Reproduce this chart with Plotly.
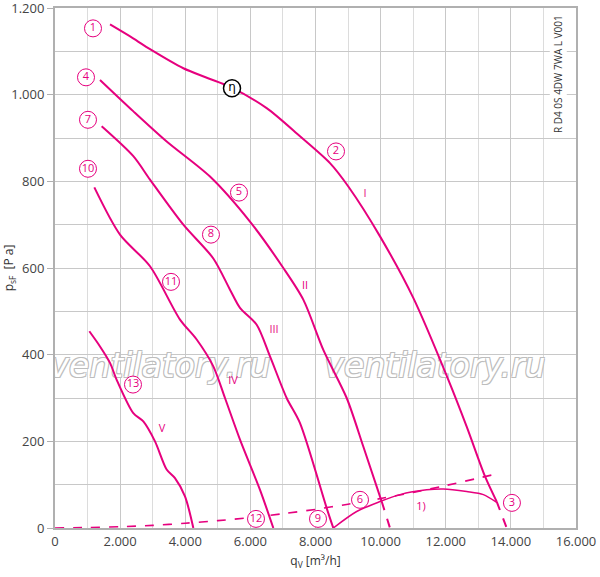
import plotly.graph_objects as go

PINK = "#e6007e"

# Fan curves (q_V in m3/h, p_sF in Pa)
c1_x = [1690, 2400, 2918, 3941, 4700, 5374, 6500, 7524, 8445, 9008, 9981, 11003, 12080, 12643, 13206, 13565]
c1_y = [1162, 1130, 1105, 1061, 1038, 1018, 969, 904, 842, 788, 673, 531, 342, 234, 119, 61]
c1d_x = [13565, 13872]
c1d_y = [61, 0]

c2_x = [1382, 2400, 3430, 4760, 5988, 7012, 7625, 8240, 8958, 9468, 10033]
c2_y = [1034, 962, 892, 811, 707, 600, 527, 411, 300, 188, 61]
c2d_x = [10033, 10288]
c2d_y = [61, 0]

c3_x = [1433, 2405, 2918, 3941, 4862, 5374, 5681, 6194, 6603, 7114, 7524, 8343, 8547]
c3_y = [927, 858, 804, 700, 622, 550, 508, 469, 396, 300, 242, 46, 0]

c4_x = [1208, 1996, 2918, 3839, 4351, 4862, 5220, 5681, 6296, 6705]
c4_y = [786, 677, 604, 481, 435, 373, 300, 204, 88, 0]

c5_x = [1054, 1382, 1689, 1894, 2405, 2712, 3071, 3429, 3685, 3992, 4248]
c5_y = [454, 419, 381, 342, 265, 246, 200, 135, 115, 73, 0]

# System curve (dashed)
sys_x = [0, 1000, 2000, 3000, 4000, 5000, 6000, 7000, 8000, 9000, 10000, 11000, 12000, 13400]
sys_y = [0, 1, 3, 6, 11, 17, 24, 33, 43, 55, 68, 82, 98, 122]

# Boundary curve "1)"
b_x = [8547, 9264, 9981, 10595, 11414, 11925, 12643, 13155, 13565]
b_y = [0, 38, 61, 77, 88, 90, 84, 77, 59]

# Circled point labels
pt_labels = ["1", "2", "3", "4", "5", "6", "7", "8", "9", "10", "11", "12", "13"]
pt_x = [1167, 8630, 14033, 952, 5650, 9367, 1013, 4790, 8077, 1013, 3562, 6173, 2395]
pt_y = [1153, 869, 58, 1040, 774, 65, 942, 677, 21, 829, 568, 21, 331]

eta_x = [5436]
eta_y = [1015]

# Curve names
rn_labels = ["I", "II", "III", "IV", "V", "1)"]
rn_x = [9520, 7678, 6726, 5467, 3286, 11240]
rn_y = [770, 559, 457, 338, 227, 47]

wm_text = ["ventilatory.ru", "ventilatory.ru"]
wm_x = [3224, 11670]
wm_y = [368, 368]

fig = go.Figure()

def line(x, y, dash="solid", w=2):
    fig.add_trace(go.Scatter(x=x, y=y, mode="lines", line=dict(color=PINK, width=w, dash=dash,
                                                                shape="spline", smoothing=0.8),
                             hoverinfo="skip", showlegend=False))

# watermark first (below curves)
fig.add_trace(go.Scatter(x=wm_x, y=wm_y, mode="text", text=wm_text,
                         textfont=dict(family="DejaVu Sans", size=33, color="white", style="italic",
                                       shadow="-1px -1px 0 #bdbdbd, 1px -1px 0 #bdbdbd, -1px 1px 0 #bdbdbd, 1px 1px 0 #bdbdbd"),
                         hoverinfo="skip", showlegend=False))

line(sys_x, sys_y, dash="dash", w=1.6)
line(c1_x, c1_y)
line(c1d_x, c1d_y, dash="dash")
line(c2_x, c2_y)
line(c2d_x, c2d_y, dash="dash")
line(c3_x, c3_y)
line(c4_x, c4_y)
line(c5_x, c5_y)
line(b_x, b_y, w=1.5)

fig.add_trace(go.Scatter(x=pt_x, y=pt_y, mode="markers+text", text=pt_labels,
                         marker=dict(symbol="circle", size=17, color="white",
                                     line=dict(color=PINK, width=1)),
                         textposition="middle center",
                         textfont=dict(family="Open Sans", size=11, color=PINK),
                         hoverinfo="skip", showlegend=False))

fig.add_trace(go.Scatter(x=eta_x, y=eta_y, mode="markers+text", text=["η"],
                         marker=dict(symbol="circle", size=17, color="white",
                                     line=dict(color="black", width=1.5)),
                         textposition="middle center",
                         textfont=dict(family="DejaVu Sans", size=12, color="black"),
                         hoverinfo="skip", showlegend=False))

fig.add_trace(go.Scatter(x=rn_x, y=rn_y, mode="text", text=rn_labels,
                         textfont=dict(family="Open Sans", size=11, color=PINK),
                         hoverinfo="skip", showlegend=False))

fig.add_annotation(x=0.983, xref="paper", y=1048, yref="y", text="R D4 0S 4DW 7WA L V001",
                   showarrow=False, textangle=-90, bgcolor="white",
                   font=dict(family="Open Sans", size=10, color="#333"))

grid = "#c8c8c8"
fig.update_layout(
    width=600, height=577,
    margin=dict(l=55, r=24, t=8, b=49, autoexpand=False),
    plot_bgcolor="white", paper_bgcolor="white",
    separators=",.",
    font=dict(family="Open Sans", color="#444", size=13),
    xaxis=dict(range=[0, 16000], dtick=2000, tick0=0, tickformat=",d", automargin=False,
               ticklabeloverflow="allow",
               showgrid=True, gridcolor=grid, gridwidth=1,
               minor=dict(dtick=1000, showgrid=True, gridcolor="#dcdcdc", gridwidth=1),
               showline=True, linecolor="#b0b0b0", linewidth=2, mirror=True,
               zeroline=False, ticks="", fixedrange=True,
               title=dict(text="q<sub>V</sub> [m³/h]", font=dict(size=12, color="#333"), standoff=8)),
    yaxis=dict(range=[0, 1200], dtick=200, tick0=0, tickformat=",d", automargin=False,
               ticklabeloverflow="allow",
               showgrid=True, gridcolor=grid, gridwidth=1,
               minor=dict(dtick=100, showgrid=True, gridcolor=grid, gridwidth=1),
               showline=True, linecolor="#b0b0b0", linewidth=2, mirror=True,
               zeroline=False, ticks="outside", ticklen=6, tickcolor="#b0b0b0",
               title=dict(text="p<sub>sF</sub>  [P a]", font=dict(size=12, color="#333"), standoff=6)),
)

fig.write_html("out.html", config={"displayModeBar": False},
               post_script="document.body.style.margin='0';")
